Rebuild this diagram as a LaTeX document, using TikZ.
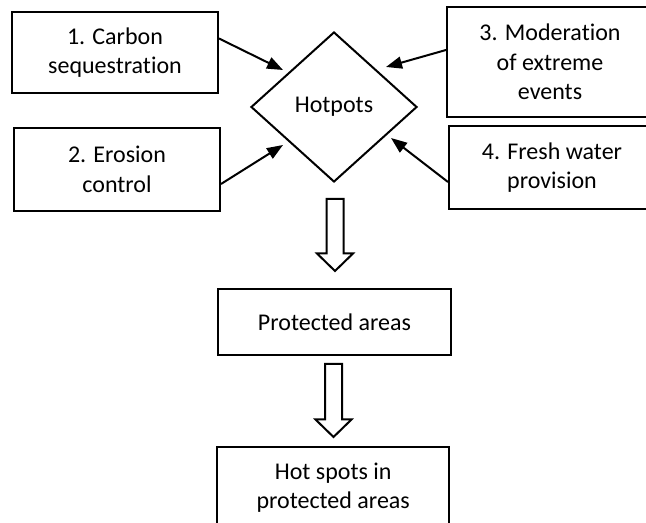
\documentclass[tikz,border=0pt]{standalone}
\usepackage{fontspec}
\setmainfont{Carlito}[Ligatures=NoCommon]
\usetikzlibrary{arrows.meta,positioning,calc,shapes.geometric}

\tikzstyle{box} = [rectangle, draw=black, line width=1.5pt, minimum width=154.5pt, align=center, inner sep=0pt]
\tikzstyle{spot} = [diamond, draw=black, line width=1.5pt, minimum width=124.5pt, minimum height=112.5pt, inner sep=0pt]
\tikzstyle{arrow} = [line width=1.5pt, -{Triangle[length=12pt,width=9pt]}]
\tikzstyle{block} = [line width=1.5pt, line join=miter]

\newcommand{\blockarrow}[2]{%
  \draw[block] ($(#1)+(-8.5,0)$) -- ($(#2)+(-8.5,-17.5)$) -- ($(#2)+(-18,-17.5)$)
    -- (#2) -- ($(#2)+(18,-17.5)$) -- ($(#2)+(8.5,-17.5)$) -- ($(#1)+(8.5,0)$) -- cycle;}

\begin{document}
\begin{tikzpicture}[x=0.75pt, y=-0.75pt, font=\fontsize{18}{22}\selectfont]
    \useasboundingbox (0,0) rectangle (646,523);
    \clip (0,0) rectangle (646,523);

    \node (hot) [spot] at (334,107) {Hotpots};

    \node (carbon) [box, minimum height=60.75pt] at (115,52.5) {1. Carbon\\sequestration};
    \node (erosion) [box, minimum height=62.25pt, below=24.75pt of carbon, xshift=1.5pt] {2. Erosion\\control};
    \node (extreme) [box, minimum height=82.5pt] at (550,62) {3. Moderation\\of extreme\\events};
    \node (fresh) [box, minimum height=62.25pt] at (552,167.5) {4. Fresh water\\provision};

    \node (prot) [box, minimum width=174.75pt, minimum height=49.5pt] at (334.5,322) {Protected areas};
    \node (spots) [box, minimum width=174pt, minimum height=61.5pt, below=67.5pt of prot, xshift=-1pt] {Hot spots in\\protected areas};

    \draw [arrow] ($(carbon.east)+(0,-14)$) -- ($(hot.west)+(33,-37)$);
    \draw [arrow] ($(erosion.east)+(0,14.5)$) -- ($(hot.west)+(33,38)$);
    \draw [arrow] ($(extreme.west)+(0,-12)$) -- ($(hot.east)+(-32,-40)$);
    \draw [arrow] ($(fresh.west)+(0,14.5)$) -- ($(hot.east)+(-27,31)$);

    \coordinate (a1) at ($(hot.south)+(1,16)$);
    \coordinate (b1) at ($(a1 |- prot.north)+(0,-17)$);
    \blockarrow{a1}{b1}
    \coordinate (a2) at ($(prot.south)+(-1,8)$);
    \coordinate (b2) at ($(a2 |- spots.north)+(0,-9)$);
    \blockarrow{a2}{b2}
\end{tikzpicture}
\end{document}
